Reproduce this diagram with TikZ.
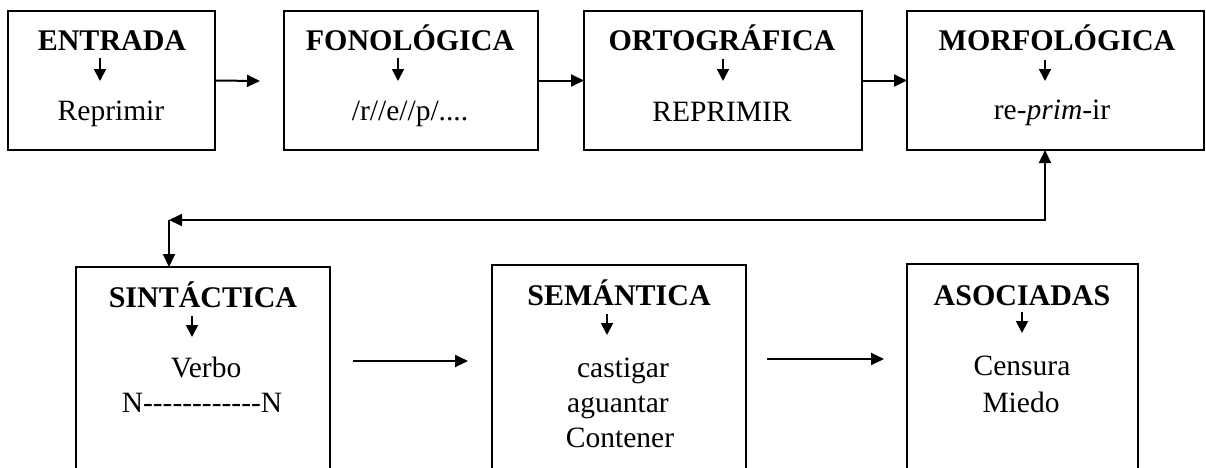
\documentclass[tikz,border=0pt]{standalone}
\usepackage{fontspec}
\setmainfont{Liberation Serif}
\usetikzlibrary{arrows.meta}
\newcommand\myhy{\mbox{-}}
\begin{document}
\begin{tikzpicture}[x=1pt,y=-1pt,
  box/.style={draw, line width=1.6pt, inner sep=0pt, outer sep=0pt},
  ttl/.style={anchor=base, font=\fontsize{30}{36}\selectfont\bfseries, inner sep=0pt},
  txt/.style={anchor=base, font=\fontsize{29.5}{35}\selectfont, inner sep=0pt},
  conn/.style={line width=2pt, -{Triangle[length=13pt,width=12pt]}},
  conntwo/.style={line width=2pt, {Triangle[length=13pt,width=12pt]}-{Triangle[length=13pt,width=12pt]}},
  inarr/.style={line width=1.8pt, -{Triangle[length=12pt,width=12pt]}},
]
\useasboundingbox (0,0) rectangle (1206,467);
\clip (0,0) rectangle (1206,467);

% boxes
\node[box, minimum width=207pt, minimum height=139pt] (entrada) at (111.5,80.5) {};
\node[box, minimum width=254pt, minimum height=139pt] (fono) at (411,80.5) {};
\node[box, minimum width=278pt, minimum height=139pt] (orto) at (723,80.5) {};
\node[box, minimum width=297pt, minimum height=139pt] (morfo) at (1055.5,80.5) {};
\node[box, minimum width=254pt, minimum height=213pt] (sint) at (203,373.5) {};
\node[box, minimum width=254pt, minimum height=215pt] (sem) at (619,372.5) {};
\node[box, minimum width=231pt, minimum height=216pt] (asoc) at (1022.5,372) {};

% titles
\node[ttl] (tentrada) at (112,50) {ENTRADA};
\node[ttl] (tfono) at (410,50) {FONOLÓGICA};
\node[ttl] (torto) at (722,50) {ORTOGRÁFICA};
\node[ttl] (tmorfo) at (1057,50) {MORFOLÓGICA};
\node[ttl] (tsint) at (203,307) {SINTÁCTICA};
\node[ttl] (tsem) at (619,305) {SEMÁNTICA};
\node[ttl] (tasoc) at (1022,305) {ASOCIADAS};

% contents
\node[txt] (centrada) at (111,120) {Reprimir};
\node[txt] (cfono) at (410,120) {/r//e//p/....};
\node[txt] (corto) at (722,121) {REPRIMIR};
\node[txt] (cmorfo) at (1052,119) {re-\textit{prim}-ir};
\node[txt] (csint1) at (206,377) {Verbo};
\node[txt] (csint2) at (202,412) {N\myhy\myhy\myhy\myhy\myhy\myhy\myhy\myhy\myhy\myhy\myhy\myhy N};
\node[txt] (csem1) at (623,377) {castigar};
\node[txt] (csem2) at (618,412) {aguantar};
\node[txt] (csem3) at (620,447) {Contener};
\node[txt] (casoc1) at (1022,375) {Censura};
\node[txt] (casoc2) at (1021,412) {Miedo};

% inner arrows
\coordinate (ie1) at (100,58);  \coordinate (ie2) at (100,81);
\coordinate (if1) at (398,58);  \coordinate (if2) at (398,81);
\coordinate (io1) at (723,59);  \coordinate (io2) at (723,81);
\coordinate (im1) at (1045,60); \coordinate (im2) at (1045,81);
\coordinate (is1) at (192,316); \coordinate (is2) at (192,337);
\coordinate (ise1) at (607,314); \coordinate (ise2) at (607,335);
\coordinate (ia1) at (1022,312); \coordinate (ia2) at (1022,333);
\draw[inarr] (ie1) -- (ie2);
\draw[inarr] (if1) -- (if2);
\draw[inarr] (io1) -- (io2);
\draw[inarr] (im1) -- (im2);
\draw[inarr] (is1) -- (is2);
\draw[inarr] (ise1) -- (ise2);
\draw[inarr] (ia1) -- (ia2);

% connectors
\coordinate (e1) at (260,81);
\draw[conn] (entrada.east) -- (e1);
\draw[conn] (fono.east) -- (orto.west);
\draw[conn] (orto.east) -- (morfo.west);

\coordinate (fx) at (1045,0);
\coordinate (corner) at (169,220);
\draw[conntwo] (fx |- morfo.south) |- (corner);
\draw[conn] (corner) -- (corner |- sint.north);

\coordinate (a1) at (353,361); \coordinate (a2) at (468,361);
\draw[conn] (a1) -- (a2);
\coordinate (b1) at (767,359); \coordinate (b2) at (884,359);
\draw[conn] (b1) -- (b2);
\end{tikzpicture}
\end{document}
